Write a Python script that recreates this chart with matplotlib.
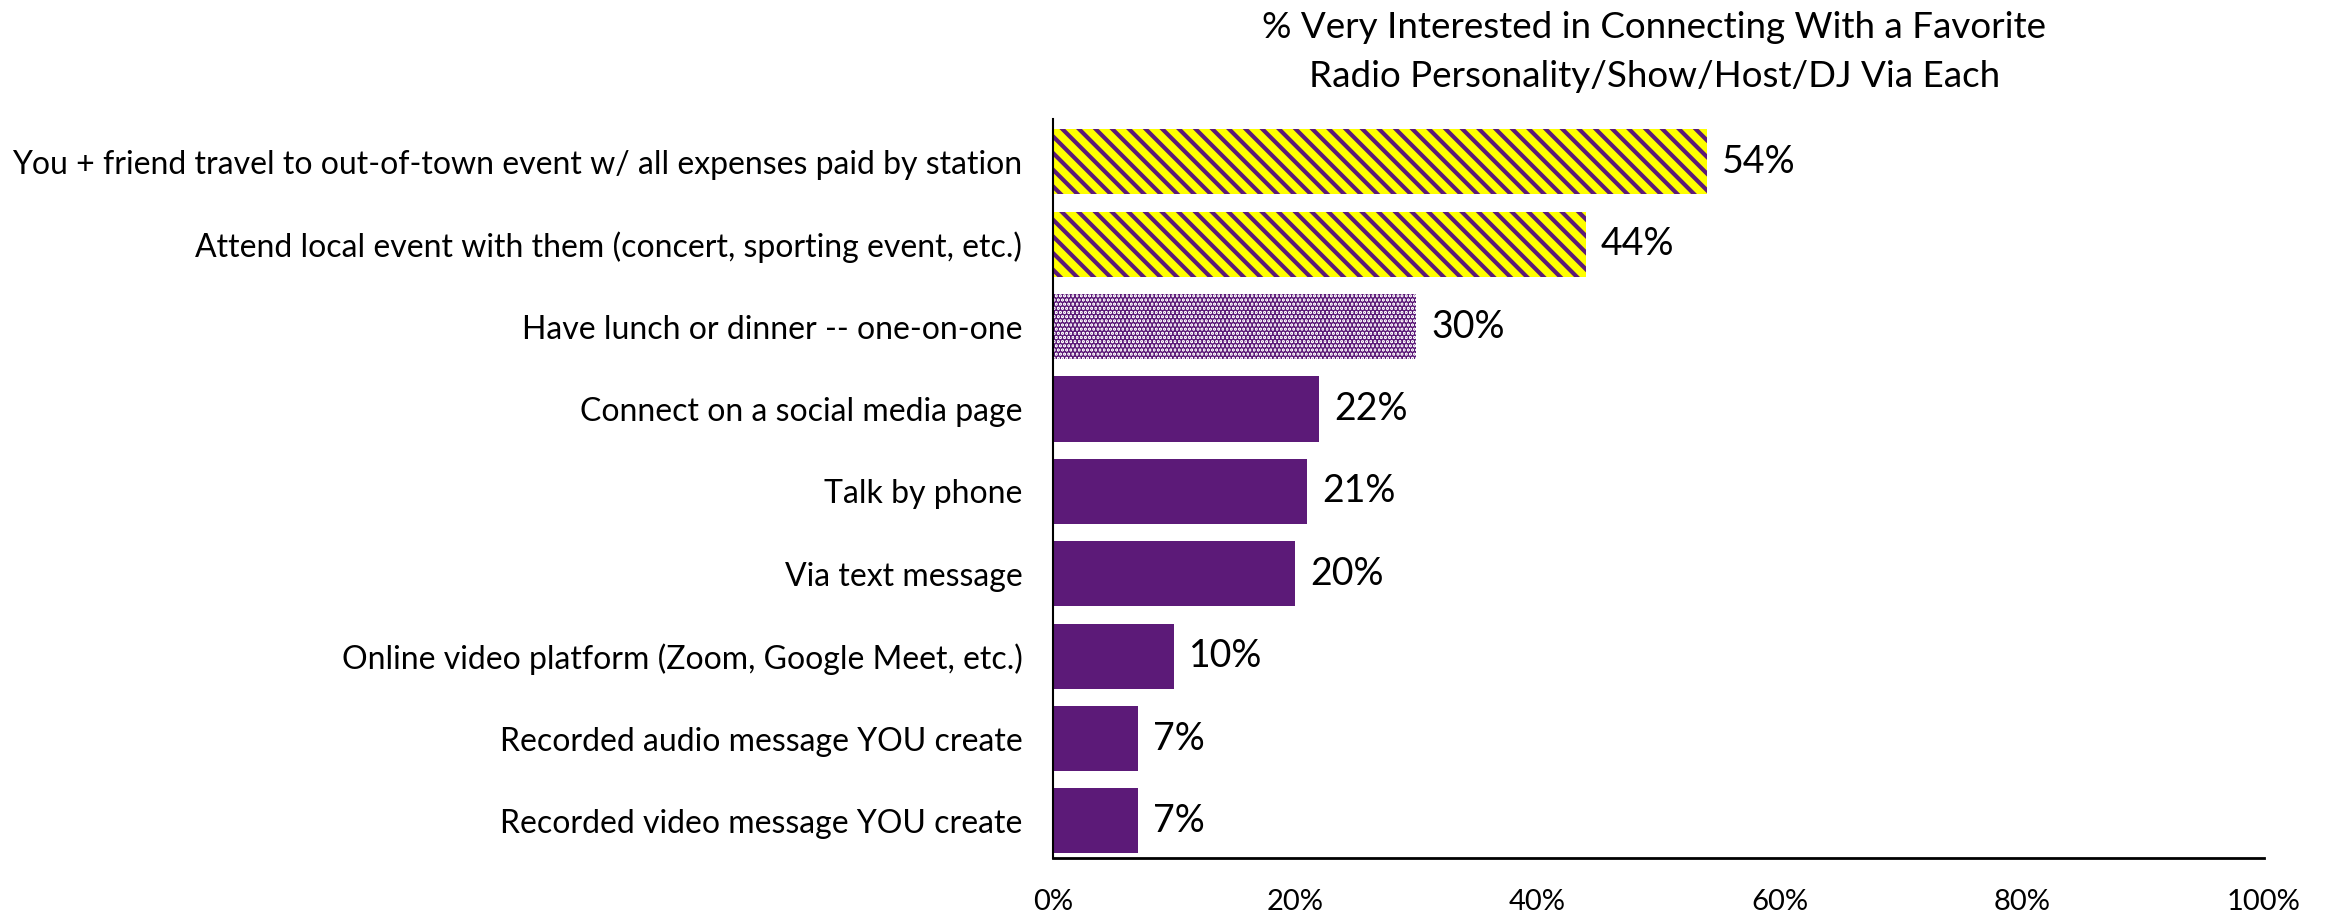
import matplotlib
matplotlib.use("Agg")
import matplotlib.pyplot as plt
from matplotlib.ticker import PercentFormatter

# 数据
categories = [
    "You + friend travel to out-of-town event w/ all expenses paid by station",
    "Attend local event with them (concert, sporting event, etc.)",
    "Have lunch or dinner -- one-on-one",
    "Connect on a social media page",
    "Talk by phone",
    "Via text message",
    "Online video platform (Zoom, Google Meet, etc.)",
    "Recorded audio message YOU create",
    "Recorded video message YOU create",
]
values = [54, 44, 30, 22, 21, 20, 10, 7, 7]
styles = ["stripe", "stripe", "dots", "solid", "solid", "solid", "solid", "solid", "solid"]
title = "% Very Interested in Connecting With a Favorite\nRadio Personality/Show/Host/DJ Via Each"
xticks = [0, 20, 40, 60, 80, 100]

PURPLE = "#5C1A78"
YELLOW = "#FFFF00"

plt.rcParams["font.family"] = ["Lato", "DejaVu Sans"]
plt.rcParams["hatch.linewidth"] = 3.0

fig = plt.figure(figsize=(23.28, 9.21), dpi=100)
ax = fig.add_axes([0.4523, 0.0684, 0.5202, 0.8024])

ypos = list(range(len(categories)))
for y, v, s in zip(ypos, values, styles):
    if s == "stripe":
        ax.barh(y, v, height=0.79, color=YELLOW, edgecolor=PURPLE, linewidth=0, hatch="\\\\")
    elif s == "dots":
        ax.barh(y, v, height=0.79, color="white", edgecolor=PURPLE, linewidth=0, hatch="....")
    else:
        ax.barh(y, v, height=0.79, color=PURPLE, linewidth=0)
    ax.annotate(f"{v}%", (v, y), xytext=(11, 0), textcoords="offset points",
                va="center", ha="left", fontsize=27, color="black")

ax.set_xlim(0, 100)
ax.set_ylim(8.45, -0.52)
ax.set_yticks(ypos)
ax.set_yticklabels(categories, fontsize=23)
ax.set_xticks(xticks)
ax.xaxis.set_major_formatter(PercentFormatter(decimals=0))
ax.tick_params(axis="both", length=0)
ax.tick_params(axis="y", pad=22)
ax.tick_params(axis="x", labelsize=21, pad=22)

for side in ("top", "right"):
    ax.spines[side].set_visible(False)
ax.spines["left"].set_linewidth(1.5)
ax.spines["bottom"].set_linewidth(2)

fig.text(0.7106, 0.988, title, ha="center", va="top", fontsize=26.5, linespacing=1.6)

fig.savefig("out.png", dpi=100)
